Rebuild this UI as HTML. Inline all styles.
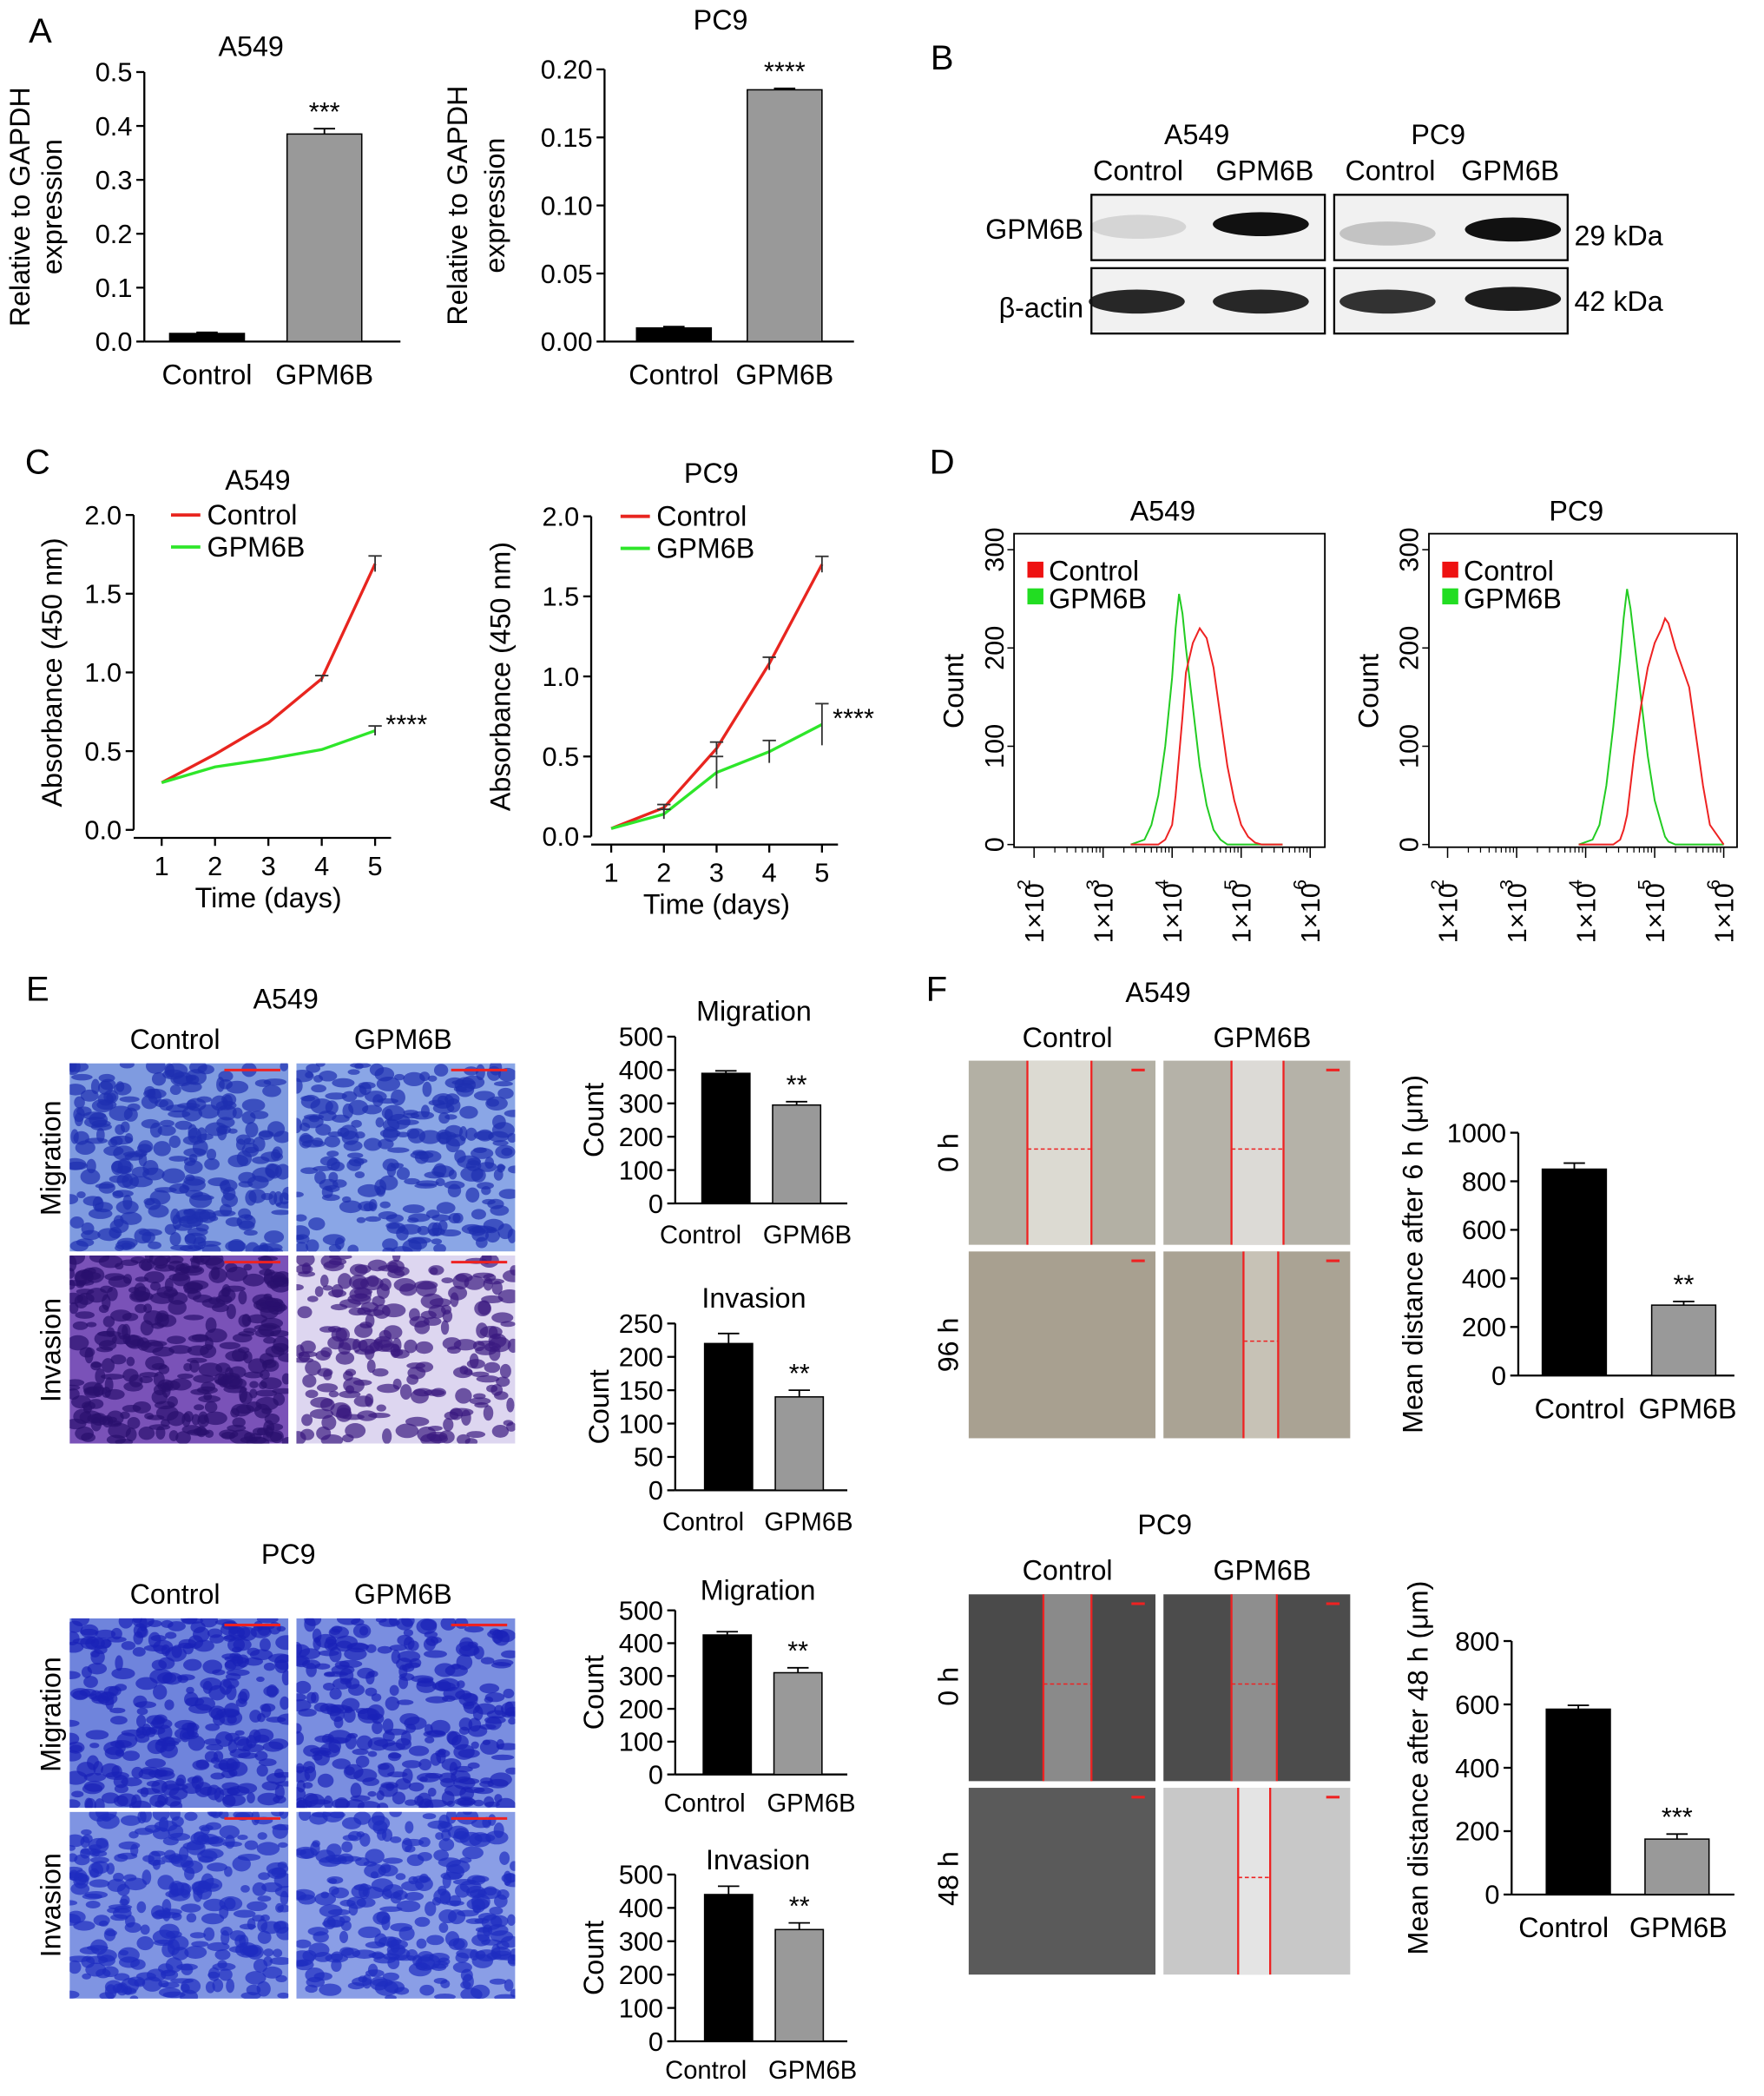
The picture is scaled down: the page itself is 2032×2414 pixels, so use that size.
<!DOCTYPE html>
<html><head><meta charset="utf-8"><style>
html,body{margin:0;padding:0;background:#fff}
svg{display:block;font-family:"Liberation Sans",sans-serif}
</style></head><body>
<svg id="fig" width="2032" height="2414" viewBox="0 0 1322 1571" xmlns="http://www.w3.org/2000/svg">
<rect width="1322" height="1571" fill="#fff"/>
<defs id="defs"></defs>
</svg>
<script>
// ---- data ----
const barCats = ["Control","GPM6B"];
const aA549Vals = [0.015, 0.385];
const aA549Ticks = ["0.0","0.1","0.2","0.3","0.4","0.5"];
const aPC9Vals = [0.01, 0.185];
const aPC9Ticks = ["0.00","0.05","0.10","0.15","0.20"];
const days = [1,2,3,4,5];
const cA549Control = [0.30,0.48,0.68,0.96,1.69];
const cA549GPM6B = [0.30,0.40,0.45,0.51,0.63];
const cPC9Control = [0.05,0.18,0.55,1.08,1.70];
const cPC9GPM6B = [0.05,0.14,0.40,0.53,0.70];
const absTicks = ["0.0","0.5","1.0","1.5","2.0"];
const flowLog = [3.4,3.6,3.7,3.8,3.9,4.0,4.05,4.1,4.15,4.2,4.3,4.4,4.5,4.6,4.7,4.8,4.9,5.0,5.1,5.2,5.3,5.4,5.6];
const dA549Green = [0,5,20,50,100,170,220,255,235,200,140,80,40,15,5,0,0,0,0,0,0,0,0];
const dA549Red = [0,0,0,0,5,20,50,90,130,175,205,220,210,180,130,80,45,20,8,2,0,0,0];
const flowLog2 = [3.9,4.1,4.2,4.3,4.4,4.5,4.55,4.6,4.65,4.7,4.8,4.9,5.0,5.1,5.15,5.2,5.3,5.4,5.5,5.6,5.7,5.8,6.0];
const dPC9Green = [0,5,20,60,120,190,230,260,240,210,150,90,45,20,8,3,0,0,0,0,0,0,0];
const dPC9Red = [0,0,0,0,0,5,15,30,60,90,140,180,205,220,230,225,200,180,160,110,60,20,0];
const countTicks = ["0","100","200","300"];
const eA549Mig = [390,295]; const eA549Inv = [220,140];
const ePC9Mig = [425,310]; const ePC9Inv = [440,335];
const mig500Ticks = ["0","100","200","300","400","500"];
const inv250Ticks = ["0","50","100","150","200","250"];
const fA549 = [850,290]; const fA549Ticks = ["0","200","400","600","800","1000"];
const fPC9 = [585,175]; const fPC9Ticks = ["0","200","400","600","800"];

const S = document.getElementById('fig');
const D = document.getElementById('defs');
const NS = "http://www.w3.org/2000/svg";
function mk(tag, attrs, parent){const e=document.createElementNS(NS,tag);for(const k in attrs)e.setAttribute(k,attrs[k]);(parent||S).appendChild(e);return e;}
function txt(x,y,s,size,opts){opts=opts||{};const t=mk('text',{x:x,y:y,'font-size':size,'text-anchor':opts.anchor||'middle',fill:opts.fill||'#000'},opts.parent);if(opts.rot!==undefined)t.setAttribute('transform','rotate('+opts.rot+' '+x+' '+y+')');t.textContent=s;return t;}
function grp(name){const g=mk('g',{});return g;}

function barChart(name,o){
  const g=grp(name);
  const ymax=parseFloat(o.ticks[o.ticks.length-1]);
  const Y=v=>o.y0-(v/ymax)*(o.y0-o.y1);
  mk('line',{x1:o.ax,y1:o.y1,x2:o.ax,y2:o.y0,stroke:'#000','stroke-width':1.5},g);
  mk('line',{x1:o.ax,y1:o.y0,x2:o.xend,y2:o.y0,stroke:'#000','stroke-width':1.5},g);
  o.ticks.forEach(t=>{const y=Y(parseFloat(t));mk('line',{x1:o.ax-6,y1:y,x2:o.ax,y2:y,stroke:'#000','stroke-width':1.5},g);txt(o.ax-9,y+7,t,o.fs||20,{anchor:'end',parent:g});});
  o.vals.forEach((v,i)=>{
    const cx=o.cx[i],y=Y(v);
    const b=mk('rect',{x:cx-o.bw/2,y:y,width:o.bw,height:o.y0-y,fill:i==0?'#000':'#999',stroke:'#000','stroke-width':1},g);
    
    
    const e=(o.err||[0.02,0.03])[i]*ymax;
    mk('line',{x1:cx,y1:Y(v+e),x2:cx,y2:y,stroke:'#000','stroke-width':1.2},g);
    mk('line',{x1:cx-8,y1:Y(v+e),x2:cx+8,y2:Y(v+e),stroke:'#000','stroke-width':1.2},g);
    txt(o.lx?o.lx[i]:cx,o.y0+(o.ldy||32),barCats[i],o.lfs||21,{parent:g});
  });
  if(o.star)txt(o.cx[1],Y(o.vals[1]+(o.err?o.err[1]:0.03)*ymax)-6,o.star,20,{parent:g});
  if(o.title)txt(o.tx||(o.ax+o.xend)/2,o.ty,o.title,21,{parent:g});
  if(o.ylab)o.ylab.forEach((l,i)=>txt(o.ylx[i],(o.y0+o.y1)/2,l,21,{rot:-90,parent:g}));
}

// Panel letters
[["A",30,32],["B",706,52],["C",28,355],["D",706,355],["E",28,750],["F",702,750]].forEach(p=>{const t=txt(p[1],p[2],p[0],26);});

// Panel A
barChart('bar-chart-a549-expression',{ax:108,y0:256,y1:54,xend:300,ticks:aA549Ticks,vals:aA549Vals,cx:[155,243],bw:56,star:'***',title:'A549',tx:188,ty:42,ylab:['Relative to GAPDH','expression'],ylx:[22,46],err:[0.004,0.02]});
barChart('bar-chart-pc9-expression',{ax:453,y0:256,y1:52,xend:640,ticks:aPC9Ticks,vals:aPC9Vals,cx:[505,588],bw:56,star:'****',title:'PC9',tx:540,ty:22,ylab:['Relative to GAPDH','expression'],ylx:[350,378],err:[0.005,0.005]});

// Panel B western blot
(function(){
  const g=grp('western-blot');
  txt(897,108,'A549',21,{parent:g});txt(1078,108,'PC9',21,{parent:g});
  txt(853,135,'Control',21,{parent:g});txt(948,135,'GPM6B',21,{parent:g});
  txt(1042,135,'Control',21,{parent:g});txt(1132,135,'GPM6B',21,{parent:g});
  txt(812,179,'GPM6B',21,{anchor:'end',parent:g});txt(812,238,'β-actin',21,{anchor:'end',parent:g});
  txt(1180,184,'29 kDa',21,{anchor:'start',parent:g});txt(1180,233,'42 kDa',21,{anchor:'start',parent:g});
  const boxes=[[818,146],[1000,146],[818,201],[1000,201]];
  boxes.forEach(b=>mk('rect',{x:b[0],y:b[1],width:175,height:49,fill:'#f1f1f1',stroke:'#000','stroke-width':1.5},g));
  const bands=[[853,170,0.12],[945,168,1],[1040,175,0.2],[1134,172,1],[852,226,0.9],[945,226,0.9],[1040,226,0.85],[1134,224,0.95]];
  bands.forEach(b=>mk('ellipse',{cx:b[0],cy:b[1],rx:36,ry:9,fill:'#111','fill-opacity':b[2]},g));
})();

// Panel C line charts
function lineChart(name,o){
  const g=grp(name);
  const Y=v=>o.y0-(v/2)*(o.y0-o.y1);
  const X=d=>o.x1+(d-1)*(o.x5-o.x1)/4;
  mk('line',{x1:o.ax,y1:o.y1,x2:o.ax,y2:o.y0,stroke:'#000','stroke-width':1.5},g);
  mk('line',{x1:o.ax,y1:o.y0+6,x2:X(5)+12,y2:o.y0+6,stroke:'#000','stroke-width':1.5},g);
  absTicks.forEach(t=>{const y=Y(parseFloat(t));mk('line',{x1:o.ax-6,y1:y,x2:o.ax,y2:y,stroke:'#000','stroke-width':1.5},g);txt(o.ax-9,y+7,t,20,{anchor:'end',parent:g});});
  days.forEach(d=>{mk('line',{x1:X(d),y1:o.y0+6,x2:X(d),y2:o.y0+12,stroke:'#000','stroke-width':1.5},g);txt(X(d),o.y0+34,String(d),20,{parent:g});});
  txt((X(1)+X(5))/2,o.y0+58,'Time (days)',21,{parent:g});
  txt(o.ylx,(o.y0+o.y1)/2,'Absorbance (450 nm)',21,{rot:-90,parent:g});
  txt(o.tx,o.ty,o.title,21,{parent:g});
  [[o.c,'#e8251f','Control'],[o.gp,'#2ee62a','GPM6B']].forEach((s,k)=>{
    const p=mk('polyline',{points:days.map((d,i)=>X(d)+','+Y(s[0][i])).join(' '),fill:'none',stroke:s[1],'stroke-width':2.2},g);
    
    days.forEach((d,i)=>{const e=o.err[k][i];if(e>0){mk('line',{x1:X(d),y1:Y(s[0][i]+e),x2:X(d),y2:Y(s[0][i]-e),stroke:'#333','stroke-width':1.2},g);mk('line',{x1:X(d)-5,y1:Y(s[0][i]+e),x2:X(d)+5,y2:Y(s[0][i]+e),stroke:'#333','stroke-width':1.2},g);}});
    const ly=o.ly+k*24;
    mk('line',{x1:o.lx,y1:ly-7,x2:o.lx+22,y2:ly-7,stroke:s[1],'stroke-width':2.5},g);
    txt(o.lx+27,ly,s[2],21,{anchor:'start',parent:g});
  });
  txt(X(5)+8,Y(o.gp[4])+2,'****',20,{anchor:'start',parent:g});
}
lineChart('line-chart-a549-proliferation',{ax:100,y0:622,y1:386,x1:121,x5:281,c:cA549Control,gp:cA549GPM6B,err:[[0,0,0,0.02,0.05],[0,0,0,0,0.03]],title:'A549',tx:193,ty:367,ylx:46,lx:128,ly:393});
lineChart('line-chart-pc9-proliferation',{ax:443,y0:627,y1:387,x1:458,x5:616,c:cPC9Control,gp:cPC9GPM6B,err:[[0,0.02,0.04,0.04,0.05],[0,0.03,0.1,0.07,0.13]],title:'PC9',tx:533,ty:362,ylx:382,lx:465,ly:394});

// Panel D flow
function flowChart(name,o){
  const g=grp(name);
  const X=l=>o.x2+(l-2)*(o.x6-o.x2)/4;
  const Y=c=>o.y0-c*(o.y0-o.y300)/300;
  mk('rect',{x:o.bx,y:400,width:o.bw,height:235,fill:'none',stroke:'#000','stroke-width':1.2},g);
  for(let d=2;d<=6;d++){mk('line',{x1:X(d),y1:635,x2:X(d),y2:643,stroke:'#000','stroke-width':1},g);
    const xl=X(d)+7;txt(xl,707,'1×10',20,{anchor:'start',rot:-90,parent:g});txt(xl-10,667,String(d),14,{anchor:'start',rot:-90,parent:g});
    if(d<6)for(let m=2;m<10;m++){const x=X(d+Math.log10(m));mk('line',{x1:x,y1:635,x2:x,y2:639,stroke:'#000','stroke-width':0.8},g);}}
  countTicks.forEach(t=>{const y=Y(+t);mk('line',{x1:o.bx-5,y1:y,x2:o.bx,y2:y,stroke:'#000'},g);txt(o.bx-8,y,t,20,{rot:-90,parent:g});});
  txt(o.bx-38,518,'Count',21,{rot:-90,parent:g});
  txt(o.bx+o.bw/2-5,390,o.title,21,{parent:g});
  [[o.green,'#22cc22',o.lg],[o.red,'#ee2222',o.lr]].forEach(s=>{
    const p=mk('polyline',{points:s[2].map((l,i)=>X(l)+','+Y(s[0][i])).join(' '),fill:'none',stroke:s[1],'stroke-width':1.3},g);
    });
  mk('rect',{x:o.bx+10,y:421,width:12,height:12,fill:'#e11'},g);txt(o.bx+26,435,'Control',21,{anchor:'start',parent:g});
  mk('rect',{x:o.bx+10,y:441,width:12,height:12,fill:'#2d2'},g);txt(o.bx+26,456,'GPM6B',21,{anchor:'start',parent:g});
}
flowChart('flow-histogram-a549',{bx:760,bw:233,x2:775,x6:982,y0:633,y300:412,green:dA549Green,red:dA549Red,lg:flowLog,lr:flowLog,title:'A549'});
flowChart('flow-histogram-pc9',{bx:1071,bw:231,x2:1085,x6:1292,y0:633,y300:412,green:dPC9Green,red:dPC9Red,lg:flowLog2,lr:flowLog2,title:'PC9'});

// microscopy images
let clipN=0;
function micro(name,x,y,w,h,bg,fg,dots,seed){
  const g=grp(name);
  const id='clip'+(clipN++);
  const cp=mk('clipPath',{id:id},D);mk('rect',{x:x,y:y,width:w,height:h},cp);
  g.setAttribute('clip-path','url(#'+id+')');
  mk('rect',{x:x,y:y,width:w,height:h,fill:bg},g);
  let s=seed;const r=()=>{s=(s*9301+49297)%233280;return s/233280;};
  for(let i=0;i<dots;i++)mk('ellipse',{cx:x+r()*w,cy:y+r()*h,rx:3+r()*6,ry:2+r()*4,fill:fg,'fill-opacity':0.7},g);
  mk('line',{x1:x+w-48,y1:y+5,x2:x+w-6,y2:y+5,stroke:'#e22','stroke-width':2},g);
}
function scratch(name,x,y,w,h,bg,l,r,mid){
  const g=grp(name);
  mk('rect',{x:x,y:y,width:w,height:h,fill:bg},g);
  if(l!==null){mk('rect',{x:l,y:y,width:r-l,height:h,fill:mid},g);
  mk('line',{x1:l,y1:y,x2:l,y2:y+h,stroke:'#e22','stroke-width':1.5},g);mk('line',{x1:r,y1:y,x2:r,y2:y+h,stroke:'#e22','stroke-width':1.5},g);
  mk('line',{x1:l,y1:y+h*0.48,x2:r,y2:y+h*0.48,stroke:'#e22','stroke-width':1,'stroke-dasharray':'3 2'},g);}
  mk('line',{x1:x+w-18,y1:y+7,x2:x+w-8,y2:y+7,stroke:'#e22','stroke-width':2},g);
}
txt(214,756,'A549',21);txt(131,786,'Control',21);txt(302,786,'GPM6B',21);
txt(45,868,'Migration',21,{rot:-90});txt(45,1012,'Invasion',21,{rot:-90});
micro('image-a549-migration-control',52,797,164,141,'#7f9be0','#1e2fb0',260,1);
micro('image-a549-migration-gpm6b',222,797,164,141,'#8aa6e6','#1e2fb0',240,2);
micro('image-a549-invasion-control',52,941,164,141,'#7a52b8','#2a0f6e',320,3);
micro('image-a549-invasion-gpm6b',222,941,164,141,'#ddd6f0','#3a1a80',220,4);
txt(216,1172,'PC9',21);txt(131,1202,'Control',21);txt(302,1202,'GPM6B',21);
txt(45,1285,'Migration',21,{rot:-90});txt(45,1428,'Invasion',21,{rot:-90});
micro('image-pc9-migration-control',52,1213,164,142,'#6f84dc','#1a22b8',300,5);
micro('image-pc9-migration-gpm6b',222,1213,164,142,'#7a8ee0','#1a22b8',290,6);
micro('image-pc9-invasion-control',52,1358,164,140,'#7f94e2','#1e2cc0',280,7);
micro('image-pc9-invasion-gpm6b',222,1358,164,140,'#8a9ee6','#1e2cc0',260,8);

// E bar charts
barChart('bar-chart-a549-migration',{ax:506,y0:902,y1:777,xend:635,ticks:mig500Ticks,vals:eA549Mig,cx:[544,597],bw:36,star:'**',title:'Migration',tx:565,ty:765,ylab:['Count'],ylx:[452],err:[0.015,0.02],fs:20,lx:[525,605],lfs:19,ldy:30});
barChart('bar-chart-a549-invasion',{ax:506,y0:1117,y1:992,xend:635,ticks:inv250Ticks,vals:eA549Inv,cx:[546,599],bw:36,star:'**',title:'Invasion',tx:565,ty:980,ylab:['Count'],ylx:[456],err:[0.06,0.04],fs:20,lx:[527,606],lfs:19,ldy:30});
barChart('bar-chart-pc9-migration',{ax:506,y0:1330,y1:1207,xend:635,ticks:mig500Ticks,vals:ePC9Mig,cx:[545,598],bw:36,star:'**',title:'Migration',tx:568,ty:1199,ylab:['Count'],ylx:[452],err:[0.02,0.03],fs:20,lx:[528,608],lfs:19,ldy:28});
barChart('bar-chart-pc9-invasion',{ax:506,y0:1530,y1:1405,xend:635,ticks:mig500Ticks,vals:ePC9Inv,cx:[546,599],bw:36,star:'**',title:'Invasion',tx:568,ty:1401,ylab:['Count'],ylx:[452],err:[0.05,0.04],fs:20,lx:[529,609],lfs:19,ldy:28});

// F scratch images
txt(868,751,'A549',21);txt(800,785,'Control',21);txt(946,785,'GPM6B',21);
txt(718,864,'0 h',21,{rot:-90});txt(718,1008,'96 h',21,{rot:-90});
scratch('image-a549-scratch-0h-control',726,795,140,138,'#b3b0a4',770,818,'#dcdad2');
scratch('image-a549-scratch-0h-gpm6b',872,795,140,138,'#b5b2a8',923,962,'#dcdad6');
scratch('image-a549-scratch-96h-control',726,938,140,140,'#a8a090',null,null,null);
scratch('image-a549-scratch-96h-gpm6b',872,938,140,140,'#aaa394',932,958,'#c7c2b6');
txt(873,1150,'PC9',21);txt(800,1184,'Control',21);txt(946,1184,'GPM6B',21);
txt(718,1264,'0 h',21,{rot:-90});txt(718,1408,'48 h',21,{rot:-90});
scratch('image-pc9-scratch-0h-control',726,1195,140,140,'#4a4a4a',782,818,'#8a8a8a');
scratch('image-pc9-scratch-0h-gpm6b',872,1195,140,140,'#4c4c4c',923,957,'#8e8e8e');
scratch('image-pc9-scratch-48h-control',726,1340,140,140,'#5a5a5a',null,null,null);
scratch('image-pc9-scratch-48h-gpm6b',872,1340,140,140,'#c8c8c8',928,952,'#e4e4e4');

barChart('bar-chart-a549-wound',{ax:1138,y0:1031,y1:849,xend:1300,ticks:fA549Ticks,vals:fA549,cx:[1180,1262],bw:48,star:'**',ylab:['Mean distance after 6 h (μm)'],ylx:[1066],err:[0.025,0.015],fs:20,lx:[1184,1265]});
barChart('bar-chart-pc9-wound',{ax:1133,y0:1420,y1:1230,xend:1300,ticks:fPC9Ticks,vals:fPC9,cx:[1183,1257],bw:48,star:'***',ylab:['Mean distance after 48 h (μm)'],ylx:[1070],err:[0.015,0.02],fs:20,lx:[1172,1258]});
</script>
</body></html>
